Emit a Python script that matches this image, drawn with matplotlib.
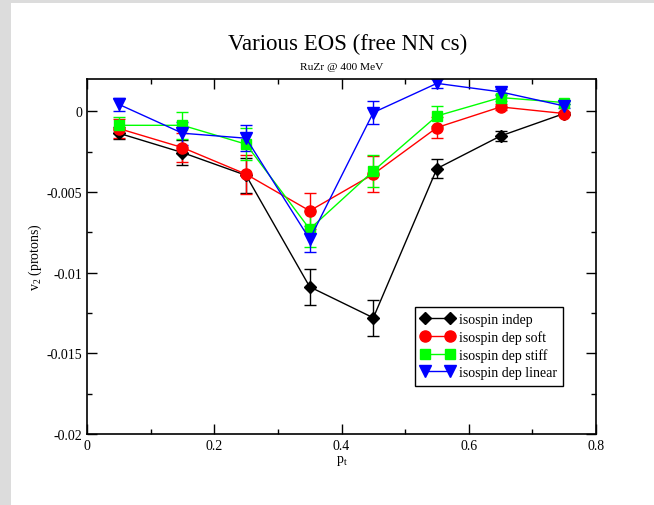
import matplotlib
matplotlib.use("Agg")
import matplotlib.pyplot as plt
from matplotlib.patches import Rectangle
from matplotlib.lines import Line2D
from matplotlib.ticker import MultipleLocator, FixedLocator

plt.rcParams['font.family'] = ['Liberation Serif', 'DejaVu Serif']
plt.rcParams['mathtext.fontset'] = 'custom'
plt.rcParams['mathtext.rm'] = 'Liberation Serif'
plt.rcParams['mathtext.it'] = 'Liberation Serif'

pt = [0.05, 0.15, 0.25, 0.35, 0.45, 0.55, 0.65, 0.75]

indep = [-0.00136, -0.00256, -0.00397, -0.01088, -0.0128, -0.00355, -0.00153, -0.00014]
indep_err = [0.00037, 0.0008, 0.0011, 0.0011, 0.0011, 0.0006, 0.0003, 0.0001]

soft = [-0.00107, -0.00225, -0.0039, -0.00617, -0.0039, -0.00101, 0.00027, -0.00014]
soft_err = [0.0006, 0.0009, 0.0012, 0.0011, 0.0011, 0.00065, 0.0002, 0.0001]

stiff = [-0.00087, -0.00087, -0.00204, -0.0073, -0.0037, -0.00029, 0.00085, 0.00054]
stiff_err = [0.0005, 0.00085, 0.001, 0.0011, 0.001, 0.0006, 0.0002, 0.0001]

linear = [0.00043, -0.00136, -0.00167, -0.00793, -0.00008, 0.00173, 0.0012, 0.00033]
linear_err = [0.0004, 0.0007, 0.0008, 0.0008, 0.0007, 0.0003, 0.0002, 0.0001]

labels = ["isospin indep", "isospin dep soft", "isospin dep stiff", "isospin dep linear"]

W, H = 654, 506
fig = plt.figure(figsize=(W / 100, H / 100), dpi=100)
fig.patch.set_facecolor('#dcdcdc')
fig.patches.append(Rectangle((11 / W, 0), 1 - 11 / W, 1 - 4 / H, transform=fig.transFigure,
                             facecolor='white', edgecolor='none', zorder=-10))

ax = fig.add_axes([87 / W, 1 - 435 / H, (596 - 87) / W, (435 - 80) / H])

series = [
    (indep, indep_err, 'black', 'D', 6.5),
    (soft, soft_err, 'red', 'o', 8),
    (stiff, stiff_err, '#00ff00', 's', 7),
    (linear, linear_err, 'blue', 'v', 8),
]
handles = []
for (vals, errs, col, mk, ms), lab in zip(series, labels):
    ax.errorbar(pt, vals, yerr=errs, color=col, marker=mk, markersize=ms,
                linewidth=1.0, elinewidth=1.0, capsize=4, capthick=1.0)
    handles.append(Line2D([], [], color=col, marker=mk, markersize=ms, linewidth=1.0, label=lab))

ax.set_xlim(0, 0.8)
ax.set_ylim(-0.02, 0.002)
ax.xaxis.set_major_locator(FixedLocator([0, 0.2, 0.4, 0.6, 0.8]))
ax.xaxis.set_minor_locator(MultipleLocator(0.1))
ax.yaxis.set_major_locator(FixedLocator([-0.02, -0.015, -0.01, -0.005, 0]))
ax.yaxis.set_minor_locator(MultipleLocator(0.0025))
ax.set_xticklabels(["0", "0.2", "0.4", "0.6", "0.8"])
ax.set_yticklabels(["-0.02", "-0.015", "-0.01", "-0.005", "0"])
ax.tick_params(which='both', direction='in', top=True, right=True, labelsize=10, width=1.0)
ax.tick_params(which='major', length=7)
ax.tick_params(which='minor', length=3.6)
for s in ax.spines.values():
    s.set_linewidth(1.2)

ax.set_xlabel(r"p$_\mathrm{t}$", fontsize=10, labelpad=1)
ax.set_ylabel(r"v$_\mathrm{2}$ (protons)", fontsize=10, labelpad=2)

fig.text(348 / W, 1 - 44 / H, "Various EOS (free NN cs)", ha='center', va='center', fontsize=16.5)
fig.text(341.5 / W, 1 - 67 / H, "RuZr @ 400 MeV", ha='center', va='center', fontsize=8.2)

leg = ax.legend(handles=handles, loc='upper left', bbox_to_anchor=(415 / W, 1 - 308 / H),
                bbox_transform=fig.transFigure,
                numpoints=2, fontsize=10, fancybox=False, framealpha=1, edgecolor='black',
                handlelength=2.4, handletextpad=0.3, borderpad=0.45, labelspacing=0.3,
                borderaxespad=0)
leg.get_frame().set_linewidth(1.0)

fig.savefig("out.png", dpi=100, facecolor=fig.get_facecolor())
